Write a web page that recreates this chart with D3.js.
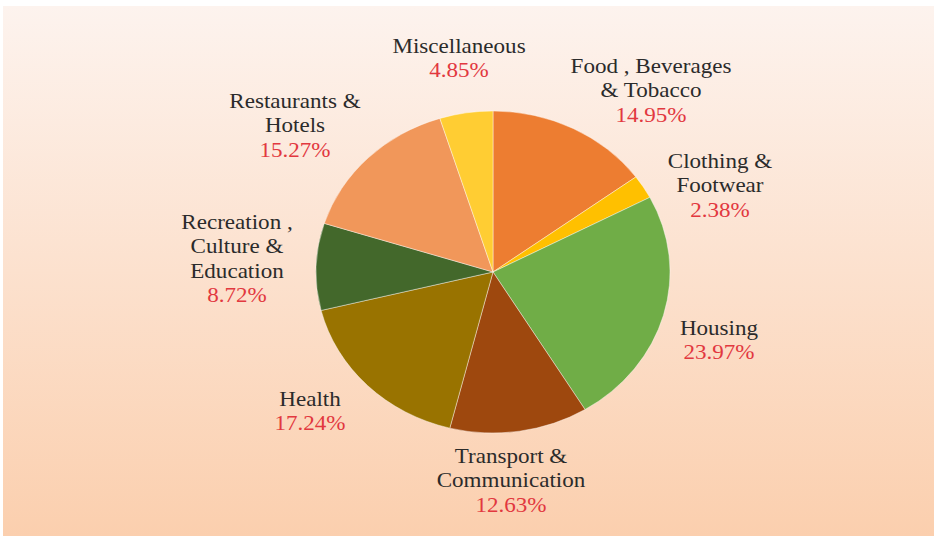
<!DOCTYPE html>
<html><head><meta charset="utf-8">
<script src="https://cdn.jsdelivr.net/npm/d3@7"></script>
<style>html,body{margin:0;padding:0;background:#fff;}svg{display:block;}</style>
</head><body>
<svg id="chart" width="938" height="536"></svg>
<script>
// Data
const categories = ["Food , Beverages|& Tobacco", "Clothing &|Footwear", "Housing", "Transport &|Communication", "Health", "Recreation ,|Culture &|Education", "Restaurants &|Hotels", "Miscellaneous"];
const values = [14.95, 2.38, 23.97, 12.63, 17.24, 8.72, 15.27, 4.85];
const colors = ["#ed7d31", "#ffc000", "#70ad47", "#9e480e", "#997300", "#43682b", "#f1975a", "#ffcd33"];

// Layout for labels (centre x, first baseline y) in page pixels
const labelAnchors = [[651, 73], [720, 168], [719, 335], [511, 463], [310, 406], [237, 229], [295, 108], [459, 53]];

const svg = d3.select("#chart");
const W = 938, H = 536;
const defs = svg.append("defs");
const grad = defs.append("linearGradient").attr("id", "bg").attr("x1", 0).attr("y1", 0).attr("x2", 0).attr("y2", 1);
grad.append("stop").attr("offset", "0%").attr("stop-color", "#fdf3ee");
grad.append("stop").attr("offset", "100%").attr("stop-color", "#fbcfae");
svg.append("rect").attr("x", 3).attr("y", 6).attr("width", 931).attr("height", H - 6).attr("fill", "url(#bg)");

const cx = 493, cy = 272, rY = 161, sx = 177 / 161;
const g = svg.append("g").attr("transform", `translate(${cx},${cy}) scale(${sx},1)`);

const pie = d3.pie().sort(null).value(d => d);
const arc = d3.arc().innerRadius(0).outerRadius(rY);
g.selectAll("path").data(pie(values)).join("path")
  .attr("d", arc)
  .attr("fill", (d, i) => colors[i])
  .attr("stroke", "#ffffff").attr("stroke-opacity", 0.5).attr("stroke-width", 0.8);

const lineH = 24.5;
const lg = svg.append("g").attr("transform", `scale(${sx},1)`);
categories.forEach((c, i) => {
  const lines = c.split("|");
  const [ax, ay] = labelAnchors[i];
  const t = lg.append("text")
    .attr("text-anchor", "middle")
    .attr("font-family", "'Liberation Serif', 'Times New Roman', serif")
    .attr("font-size", 21);
  lines.forEach((ln, k) => {
    t.append("tspan").attr("x", ax / sx).attr("y", ay + k * lineH).attr("fill", "#2b2b2b").text(ln);
  });
  t.append("tspan").attr("x", ax / sx).attr("y", ay + lines.length * lineH).attr("fill", "#e2383f")
    .text(d3.format(".2f")(values[i]) + "%");
});
</script>
</body></html>
